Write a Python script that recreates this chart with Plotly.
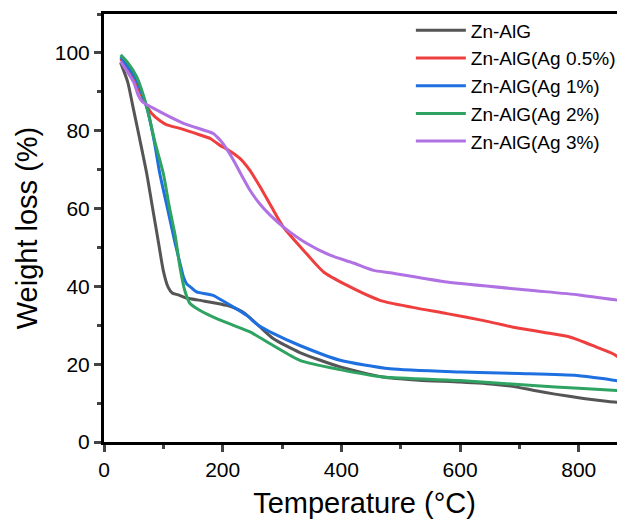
import plotly.graph_objects as go

# Data
names = ["Zn-AlG", "Zn-AlG(Ag 0.5%)", "Zn-AlG(Ag 1%)", "Zn-AlG(Ag 2%)", "Zn-AlG(Ag 3%)"]
colors = ["#555555", "#ef3e3e", "#1e6fe0", "#2ea362", "#b072e3"]

t_gray = [28, 40, 49, 60, 72, 82, 91, 100, 108, 115, 125, 139, 170, 207, 234, 260, 285, 330, 398, 470, 530, 600, 660, 696, 723, 760, 808, 850, 878]
w_gray = [97.5, 92.5, 86, 78, 69, 60, 52, 44, 39.8, 38.3, 37.8, 37.0, 36.2, 35.1, 33.4, 30, 26.6, 23, 19.3, 16.7, 15.9, 15.4, 14.8, 14.1, 13.3, 12.3, 11.2, 10.4, 10.0]

t_red = [28, 40, 55, 68, 80, 95, 106, 128, 162, 179, 195, 210, 229, 245, 263, 282, 302, 336, 370, 409, 465, 520, 578, 640, 690, 740, 785, 830, 860, 878]
w_red = [98.5, 96, 92, 87.5, 84.5, 82.5, 81.5, 80.6, 78.9, 78, 76.3, 75, 72.9, 70, 65.6, 60.5, 55.3, 49.3, 43.7, 40.3, 36.4, 34.6, 33, 31.2, 29.5, 28.2, 27, 24.4, 22.5, 20.5]

t_blue = [28, 40, 55, 72, 85, 94, 107, 120, 128, 134, 139, 146, 156, 184, 200, 218, 240, 260, 285, 330, 398, 482, 600, 700, 797, 840, 878]
w_blue = [99, 96.5, 93, 86, 77, 69, 60, 51, 46, 42.4, 40.7, 39.8, 38.6, 37.7, 36.3, 34.7, 32.6, 30, 27.9, 24.8, 21, 18.8, 18.0, 17.6, 17.1, 16.3, 15.4]

t_green = [28, 40, 55, 72, 86, 100, 110, 120, 128, 136, 145, 162, 190, 218, 246, 285, 330, 398, 470, 600, 723, 800, 878]
w_green = [99.5, 97.5, 93.9, 86.2, 77, 69, 60.5, 53, 45, 39, 35.6, 33.8, 31.7, 30, 28.3, 24.8, 21, 18.6, 16.7, 15.8, 14.5, 13.8, 13.1]

t_purple = [28, 40, 50, 58, 64, 83, 134, 184, 190, 198, 208, 218, 232, 246, 262, 280, 302, 342, 381, 420, 454, 482, 578, 718, 800, 878]
w_purple = [97.8, 95, 92.5, 89, 87.5, 85.8, 81.9, 79.3, 78.5, 77.2, 75, 72.5, 68.5, 64.7, 61.3, 58.3, 55.3, 51, 48, 46, 44.1, 43.5, 41.1, 39, 37.8, 36.2]

xs = [t_gray, t_red, t_blue, t_green, t_purple]
ys = [w_gray, w_red, w_blue, w_green, w_purple]

x_ticks = [0, 200, 400, 600, 800]
y_ticks = [0, 20, 40, 60, 80, 100]

FONT = "Liberation Sans, Arial, sans-serif"

fig = go.Figure()
for n, c, x, y in zip(names, colors, xs, ys):
    fig.add_trace(go.Scatter(x=x, y=y, mode="lines", name=n,
                             line=dict(color=c, width=3, shape="spline", smoothing=0.6)))

# The page body adds an 8px offset; margins compensate so the plot sits where the reference's does.
fig.update_layout(
    width=625, height=520,
    margin=dict(l=96, r=8, t=6, b=86, autoexpand=False),
    paper_bgcolor="white", plot_bgcolor="white",
    font=dict(family=FONT, color="black"),
    showlegend=True,
    legend=dict(x=0.589, y=1.006, xanchor="left", yanchor="top",
                font=dict(size=19, family=FONT), bgcolor="rgba(0,0,0,0)",
                tracegroupgap=0, itemwidth=50),
    xaxis=dict(range=[0, 878], tickvals=x_ticks, ticks="outside", ticklen=7, tickwidth=3,
               showline=True, linewidth=3, linecolor="black", mirror=True,
               showgrid=False, zeroline=False, automargin=False,
               tickfont=dict(size=21, family=FONT),
               minor=dict(dtick=100, tick0=0, ticks="outside", ticklen=4, tickwidth=3, showgrid=False),
               title=dict(text="Temperature (°C)", font=dict(size=29, family=FONT), standoff=13)),
    yaxis=dict(range=[0, 110], tickvals=y_ticks, ticks="outside", ticklen=7, tickwidth=3,
               showline=True, linewidth=3, linecolor="black",
               showgrid=False, zeroline=False, automargin=False,
               tickfont=dict(size=21, family=FONT),
               minor=dict(dtick=10, tick0=0, ticks="outside", ticklen=4, tickwidth=3, showgrid=False),
               title=dict(text="Weight loss (%)", font=dict(size=29, family=FONT), standoff=9)),
)

fig.write_html("out.html")
